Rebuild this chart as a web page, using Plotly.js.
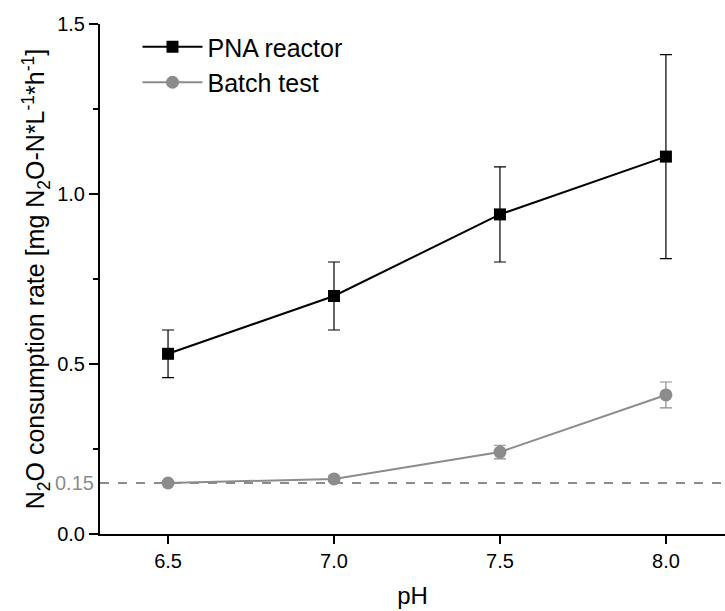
<!DOCTYPE html>
<html>
<head>
<meta charset="utf-8">
<script src="https://cdn.plot.ly/plotly-3.0.1.min.js"></script>
<style>html,body{margin:0;padding:0;background:#fff;}#chart{width:725px;height:611px;}</style>
</head>
<body>
<div id="chart"></div>
<script>
const pH = [6.5, 7.0, 7.5, 8.0];
const pnaRate = [0.53, 0.70, 0.94, 1.11];
const pnaErr = [0.07, 0.10, 0.14, 0.30];
const batchRate = [0.15, 0.162, 0.241, 0.409];
const batchErr = [0.004, 0.008, 0.02, 0.038];
const thresholdValue = 0.15;
const xTickVals = [6.5, 7.0, 7.5, 8.0];
const xTickText = ["6.5", "7.0", "7.5", "8.0"];
const yTickVals = [0, 0.5, 1.0, 1.5];
const yTickText = ["0.0", "0.5", "1.0", "1.5"];

const traces = [
  {
    x: pH, y: pnaRate, name: "PNA reactor", type: "scatter", mode: "lines+markers",
    line: {color: "#000000", width: 2},
    marker: {symbol: "square", size: 12, color: "#000000"},
    error_y: {type: "data", array: pnaErr, visible: true, color: "#000000", thickness: 1.2, width: 6}
  },
  {
    x: pH, y: batchRate, name: "Batch test", type: "scatter", mode: "lines+markers",
    line: {color: "#8c8c8c", width: 2},
    marker: {symbol: "circle", size: 13, color: "#8c8c8c"},
    error_y: {type: "data", array: batchErr, visible: true, color: "#8c8c8c", thickness: 1.2, width: 6}
  }
];

const layout = {
  width: 725, height: 611,
  margin: {l: 100, r: 0, t: 24, b: 77},
  paper_bgcolor: "#ffffff", plot_bgcolor: "#ffffff",
  font: {family: "Liberation Sans, Arial, sans-serif", color: "#000000", size: 20},
  showlegend: true,
  legend: {x: 0.06, y: 1.0, xanchor: "left", yanchor: "top", bgcolor: "rgba(0,0,0,0)",
           font: {size: 25, color: "#000"}, itemwidth: 60, tracegroupgap: 0},
  xaxis: {
    range: [6.295, 8.178], tickvals: xTickVals, ticktext: xTickText,
    showgrid: false, zeroline: false, showline: true, linecolor: "#000", linewidth: 2,
    ticks: "outside", ticklen: 8, tickwidth: 2, tickcolor: "#000",
    tickfont: {size: 20},
    title: {text: "pH", font: {size: 24}, standoff: 16}
  },
  yaxis: {
    range: [0, 1.5], tickvals: yTickVals, ticktext: yTickText,
    showgrid: false, zeroline: false, showline: true, linecolor: "#000", linewidth: 2,
    ticks: "outside", ticklen: 9, tickwidth: 2, tickcolor: "#000",
    tickfont: {size: 20},
    minor: {tickvals: [0.25, 0.75, 1.25], ticks: "outside", ticklen: 5, tickwidth: 2, tickcolor: "#000", showgrid: false},
    title: {text: "N<sub>2</sub>O consumption rate [mg N<sub>2</sub>O-N*L<sup>-1</sup>*h<sup>-1</sup>]", font: {size: 25}, standoff: 5}
  },
  shapes: [
    {type: "line", xref: "paper", yref: "y", x0: 0, x1: 1, y0: thresholdValue, y1: thresholdValue,
     line: {color: "#8c8c8c", width: 2, dash: "dash"}, layer: "below"}
  ],
  annotations: [
    {xref: "paper", yref: "y", x: 0, y: thresholdValue, xanchor: "right", yanchor: "middle", xshift: -4,
     text: String(thresholdValue), showarrow: false, font: {size: 20, color: "#8c8c8c"}}
  ]
};

Plotly.newPlot("chart", traces, layout, {displayModeBar: false, staticPlot: true});
</script>
</body>
</html>
